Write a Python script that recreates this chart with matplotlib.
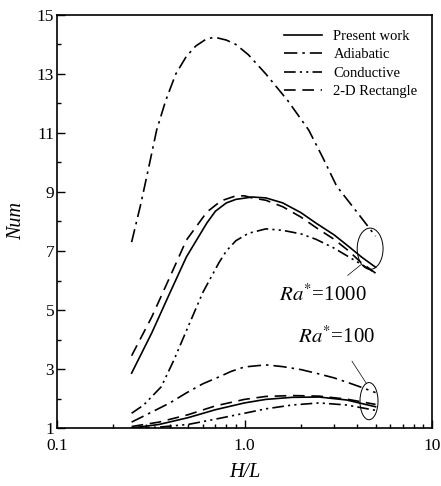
import matplotlib
matplotlib.use("Agg")
import matplotlib.pyplot as plt
from matplotlib.patches import Ellipse

plt.rcParams['font.family'] = ['Liberation Serif', 'DejaVu Serif']
plt.rcParams['mathtext.fontset'] = 'stix'

# ---- data ----
# Ra* = 1000
x_pw_1000 = [0.25, 0.32, 0.40, 0.49, 0.63, 0.70, 0.80, 0.90, 1.1, 1.3, 1.6, 2.0, 2.4, 3.0, 3.6, 4.2, 5.0]
y_pw_1000 = [2.86, 4.22, 5.58, 6.80, 7.95, 8.35, 8.63, 8.75, 8.83, 8.80, 8.63, 8.30, 7.95, 7.55, 7.15, 6.80, 6.45]
x_ad_1000 = [0.25, 0.28, 0.31, 0.34, 0.38, 0.43, 0.49, 0.55, 0.62, 0.69, 0.80, 0.90,
             1.05, 1.3, 1.7, 2.2, 2.6, 3.1, 4.0, 5.0]
y_ad_1000 = [7.3, 8.6, 9.9, 11.1, 12.1, 13.0, 13.6, 13.95, 14.17, 14.25, 14.15, 14.0,
             13.65, 13.0, 12.1, 11.1, 10.2, 9.2, 8.3, 7.5]
x_co_1000 = [0.25, 0.29, 0.36, 0.42, 0.49, 0.60, 0.73, 0.80, 0.90, 1.05, 1.3, 1.6, 2.0, 2.4, 3.0, 3.6, 4.2, 5.0]
y_co_1000 = [1.5, 1.78, 2.4, 3.3, 4.3, 5.6, 6.6, 7.0, 7.35, 7.6, 7.75, 7.7, 7.58, 7.4, 7.1, 6.8, 6.55, 6.25]
x_re_1000 = [0.25, 0.32, 0.40, 0.49, 0.63, 0.75, 0.90, 1.0, 1.1, 1.3, 1.6, 2.0, 2.4, 3.0, 3.6, 4.2, 5.0]
y_re_1000 = [3.45, 4.76, 6.12, 7.37, 8.32, 8.70, 8.87, 8.87, 8.80, 8.72, 8.50, 8.15, 7.80, 7.40, 7.00, 6.60, 6.25]
# Ra* = 100
x_100 = [0.25, 0.35, 0.50, 0.70, 1.0, 1.3, 1.8, 2.5, 3.5, 5.0]
y_pw_100 = [1.0, 1.12, 1.35, 1.62, 1.85, 1.97, 2.04, 2.05, 1.95, 1.72]
y_re_100 = [1.05, 1.20, 1.45, 1.75, 1.97, 2.07, 2.10, 2.08, 1.98, 1.80]
y_co_100 = [1.0, 1.03, 1.12, 1.30, 1.50, 1.65, 1.78, 1.85, 1.78, 1.60]
x_ad_100 = [0.25, 0.32, 0.40, 0.49, 0.60, 0.73, 0.85, 1.0, 1.3, 1.6, 2.0, 2.4, 3.0, 3.6, 4.2, 5.0]
y_ad_100 = [1.2, 1.54, 1.85, 2.19, 2.50, 2.73, 2.92, 3.07, 3.14, 3.08, 2.98, 2.86, 2.70, 2.53, 2.38, 2.2]

labels = ['Present work', 'Adiabatic', 'Conductive', '2-D Rectangle']
yticks_major = [1, 3, 5, 7, 9, 11, 13, 15]
yticks_minor = [2, 4, 6, 8, 10, 12, 14]
xticks = [0.1, 1.0, 10]
xticklabels = ['0.1', '1.0', '10']

# ---- styles ----
lw = 1.2
st_pw = dict(color='black', lw=lw, linestyle='-')
st_ad = dict(color='black', lw=lw, dashes=(8, 3, 1.5, 3))
st_co = dict(color='black', lw=lw, dashes=(7, 2.5, 1.3, 2.5, 1.3, 2.5))
st_re = dict(color='black', lw=lw, dashes=(7, 4))

fig = plt.figure(figsize=(4.41, 4.86), dpi=100)
ax = fig.add_axes([57/441, 1-428/486, 375/441, 413/486])

ax.plot(x_pw_1000, y_pw_1000, label=labels[0], **st_pw)
ax.plot(x_ad_1000, y_ad_1000, label=labels[1], **st_ad)
ax.plot(x_co_1000, y_co_1000, label=labels[2], **st_co)
ax.plot(x_re_1000, y_re_1000, label=labels[3], **st_re)

ax.plot(x_100, y_pw_100, **st_pw)
ax.plot(x_ad_100, y_ad_100, **st_ad)
ax.plot(x_100, y_co_100, **st_co)
ax.plot(x_100, y_re_100, **st_re)

ax.set_xscale('log')
ax.set_xlim(0.1, 10)
ax.set_ylim(1, 15)
ax.set_xticks(xticks)
ax.set_xticklabels(xticklabels)
ax.set_yticks(yticks_major)
ax.set_yticks(yticks_minor, minor=True)
ax.tick_params(which='both', direction='in', top=False, right=False,
               labelsize=12.5, width=1)
ax.tick_params(which='major', length=6, pad=2)
ax.tick_params(which='minor', length=3)
ax.tick_params(axis='x', pad=7)
for s in ax.spines.values():
    s.set_linewidth(1.2)

ax.set_ylabel('Num', fontsize=14.5, style='italic', labelpad=8)
ax.set_xlabel('H/L', fontsize=14.5, style='italic', labelpad=7)

leg = ax.legend(loc='upper right', frameon=False, fontsize=10.5,
                handlelength=2.6, labelspacing=0.35, handletextpad=0.8,
                borderaxespad=0.2, bbox_to_anchor=(0.985, 0.985))

# ellipses + annotations
e1 = Ellipse((0.835, 0.434), 0.069, 0.10, transform=ax.transAxes,
             fill=False, lw=0.7, color='black')
e2 = Ellipse((0.832, 0.065), 0.048, 0.09, transform=ax.transAxes,
             fill=False, lw=0.7, color='black')
ax.add_patch(e1)
ax.add_patch(e2)
ax.annotate(r'$Ra^{*}$=1000', xy=(0.81, 0.395), xycoords='axes fraction',
            xytext=(0.71, 0.322), textcoords='axes fraction',
            ha='center', va='center', fontsize=15,
            arrowprops=dict(arrowstyle='-', lw=0.5, color='black',
                            shrinkA=7, shrinkB=0))
ax.annotate(r'$Ra^{*}$=100', xy=(0.825, 0.108), xycoords='axes fraction',
            xytext=(0.745, 0.22), textcoords='axes fraction',
            ha='center', va='center', fontsize=15,
            arrowprops=dict(arrowstyle='-', lw=0.5, color='black',
                            shrinkA=9, shrinkB=0))

fig.savefig('out.png', dpi=100)
